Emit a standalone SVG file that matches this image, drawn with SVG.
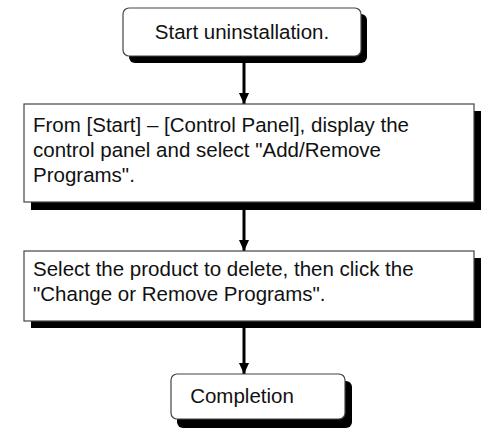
<svg xmlns="http://www.w3.org/2000/svg" width="481" height="428" viewBox="0 0 481 428">
<style>
.shadow{fill:#000}
.box{fill:#fff;stroke:#444;stroke-width:1.2}
.t{font-family:"Liberation Sans",Arial,sans-serif;font-size:20.5px;fill:#111}
.c{stroke:#000;stroke-width:3;fill:none}
</style>
<defs>
<marker id="ah" viewBox="0 0 12 11" refX="12" refY="5.5" markerWidth="11" markerHeight="12" markerUnits="userSpaceOnUse" orient="auto">
<path d="M0,0L12,5.5L0,11z" fill="#000"/>
</marker>
</defs>
<rect width="481" height="428" fill="#fff"/>
<g id="connectors">
<line class="c" x1="244" y1="62" x2="244" y2="104" marker-end="url(#ah)"/>
<line class="c" x1="244" y1="210" x2="244" y2="251" marker-end="url(#ah)"/>
<line class="c" x1="244" y1="328" x2="244" y2="374" marker-end="url(#ah)"/>
</g>
<g id="n1">
<rect class="shadow" x="129" y="14" width="238" height="49" rx="6"/>
<rect class="box" x="123" y="8" width="238" height="48" rx="6"/>
<text class="t" x="242" y="39" text-anchor="middle">Start uninstallation.</text>
</g>
<g id="n2">
<rect class="shadow" x="31" y="111" width="450" height="99"/>
<rect class="box" x="24" y="104" width="450" height="98"/>
<text class="t" x="33" y="132">From [Start] – [Control Panel], display the</text>
<text class="t" x="33" y="157">control panel and select "Add/Remove</text>
<text class="t" x="33" y="182">Programs".</text>
</g>
<g id="n3">
<rect class="shadow" x="31" y="258" width="450" height="70"/>
<rect class="box" x="24" y="251" width="450" height="70"/>
<text class="t" x="33" y="276">Select the product to delete, then click the</text>
<text class="t" x="33" y="301">"Change or Remove Programs".</text>
</g>
<g id="n4">
<rect class="shadow" x="177" y="381" width="175" height="47" rx="6"/>
<rect class="box" x="171" y="374" width="174" height="45" rx="6"/>
<text class="t" x="242" y="403" text-anchor="middle">Completion</text>
</g>
</svg>
